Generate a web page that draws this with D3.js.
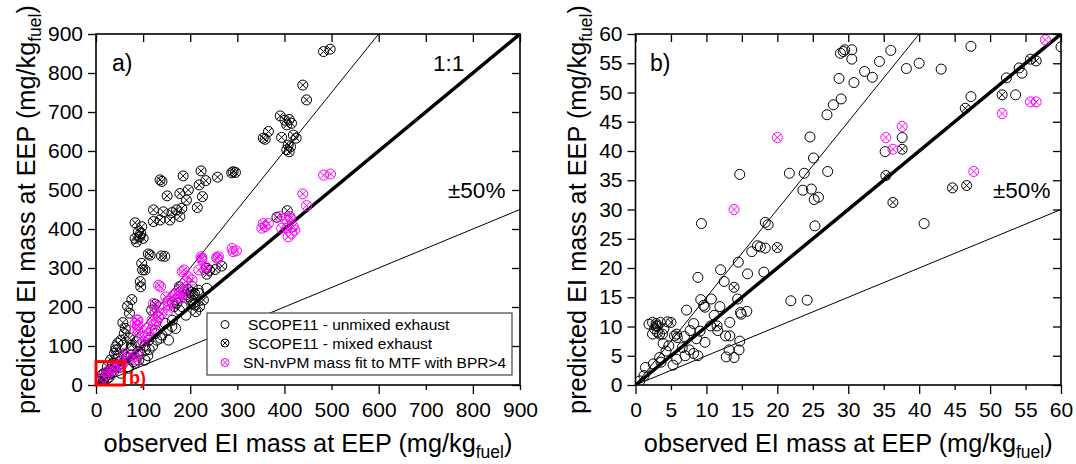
<!DOCTYPE html>
<html><head><meta charset="utf-8">
<script src="https://cdn.jsdelivr.net/npm/d3@7"></script>
<style>body{margin:0;background:#fff}svg{display:block;font-family:"Liberation Sans",Arial,sans-serif}</style>
</head><body><svg id="c" width="1076" height="464"></svg>
<script>
// ---------- data ----------
const ticksA = [0,100,200,300,400,500,600,700,800,900];
const ticksB = [0,5,10,15,20,25,30,35,40,45,50,55,60];
const legendLabels = ["SCOPE11 - unmixed exhaust","SCOPE11 - mixed exhaust","SN-nvPM mass fit to MTF with BPR>4"];
const xTitle = "observed EI mass at EEP (mg/kg";
const yTitle = "predicted EI mass at EEP (mg/kg";
const subTitle = "fuel";

const panelA_unmixed = [
[235,248],[209,205],[217,243],[206,231],[169,145],[137,120],[140,128],[129,115],[151,141],[113,91],[104,102],[89,85],[75,77],[60,60],[46,47],[31,32],[17,17],[126,132],[162,166],[191,179],[202,218],[177,192],[104,64],[82,56],[68,47],[53,30],[42,98],[57,102],[75,94],[13,26],[24,17],[35,51],[46,68],
[161,150],[126,141],[154,115],[105,90],[91,64],[69,43],[112,115],[204,252],[197,226],[183,201],[147,158],[172,210],[218,235],
[8,10],[15,8],[22,30],[28,20],[38,35],[50,45],[65,70],[80,60],[95,80],[120,100],[110,75]
];
const panelA_mixed = [
[483,855],[497,861],[439,769],[447,731],
[391,690],[401,679],[410,681],[415,671],[405,667],[355,633],[359,630],[366,650],[394,635],[419,641],[425,633],[408,615],[405,603],[413,611],[410,598],
[291,547],[288,544],[296,545],[258,533],[233,524],[223,549],[219,513],[226,483],[215,455],
[136,526],[140,522],[185,536],[196,500],[178,491],[151,485],[192,474],[182,453],[171,449],[161,442],[143,444],[122,449],[178,432],[122,419],[136,423],[157,423],
[83,416],[97,406],[90,393],[83,376],[100,376],[86,367],[93,380],[95,389],
[115,333],[139,331],[111,336],[146,330],
[97,312],[99,295],[104,295],[94,265],[95,252],
[76,219],[67,202],[71,184],[57,160],[60,132],[62,145],
[177,252],[195,245],[191,231],[202,238],[209,235],
[235,299],[253,296],[267,305],[241,294],[235,284],
[126,207],[118,192],[162,213],[169,218],[166,201],[206,209],[220,201],[212,188],[228,218],
[384,430],[406,447],
[53,115],[42,90],[39,81],[31,64],[24,47],[17,30],[46,107],[75,102],[86,111],[71,120],
[10,15],[20,22],[30,40],[50,60],[60,75],[35,55]
];
const panelA_nvpm = [
[483,538],[498,541],[439,490],[447,460],
[390,432],[401,427],[412,432],[419,406],[405,402],[415,389],[408,380],[394,402],[422,397],[413,427],[359,406],[355,414],[352,402],[366,414],
[289,350],[298,344],[291,342],[258,324],[223,329],[256,327],[224,322],[233,303],[187,295],[195,278],[190,265],[177,245],[169,235],[187,233],[180,222],[162,213],[154,205],
[133,256],[137,252],[148,226],[153,215],[140,184],[133,173],[129,162],[122,154],[118,141],[108,145],[89,166],[88,154],[89,141],[97,124],[104,124],[100,111],[111,132],
[89,81],[82,73],[86,64],[68,68],[60,81],[53,60],[46,51],[35,43],[24,34],[17,21],
[126,184],[133,201],[122,209],[83,158],[83,141],[87,167],[119,167],[133,175],[154,192],[175,226],[189,244],[204,269],[218,295],[231,295],[260,329],[225,325],[183,291],[165,231],
[10,12],[25,28],[40,38],[55,52]
];

const panelB_unmixed = [
[28.9,56.7],[29.3,57.0],[29.5,57.3],[30.5,57.3],[30.5,55.7],[36.0,57.2],[28.7,52.4],[29.0,48.9],[27.9,47.9],[27.0,46.2],[30.8,51.7],[32.3,53.6],[33.4,52.6],[34.4,55.3],[38.2,54.1],[40.0,55.0],[43.1,54.0],[47.3,57.9],[47.3,49.3],[52.3,52.5],[53.6,49.6],[54.1,54.2],[54.5,53.3],[60.0,57.8],
[37.6,42.3],[35.2,39.9],[24.6,42.4],[25.1,38.8],[23.8,36.2],[21.7,36.2],[14.7,36.0],[27.1,36.5],[23.6,33.3],[24.8,33.5],[25.8,32.1],[25.2,31.7],[25.3,27.2],[9.3,27.6],[18.3,27.8],[18.7,27.4],[40.7,27.6],
[16.4,22.8],[17.2,23.8],[17.6,23.6],[18.3,23.4],[14.5,21.0],[12.0,19.7],[8.8,18.4],[15.8,19.0],[18.1,19.3],[12.5,17.7],[9.2,14.6],[10.7,14.7],[9.8,13.3],[9.6,13.6],[11.9,13.4],[14.4,14.7],[14.9,12.1],[15.7,12.6],[14.8,12.4],[21.9,14.4],[24.2,14.5],[7.2,12.8],[11.1,11.9],[13.3,10.7],[8.2,10.5],[7.7,9.3],[9.1,9.2],[11.6,9.3],[10.6,10.1],[12.7,8.4],[13.3,8.4],[9.8,7.3],[14.7,7.5],[8.6,7.9],[6.9,8.3],[6.6,6.4],[7.6,6.0],[8.2,5.4],[8.8,5.0],[7.0,5.0],[5.8,4.4],[5.3,3.4],[3.9,7.1],[4.7,6.7],[4.3,5.8],[3.4,4.7],[3.6,3.9],[2.5,3.6],[1.4,3.0],[12.8,4.8],[13.9,4.7],[13.2,6.0],[14.6,6.0],[0.6,0.7],[1.2,1.6],
[1.9,10.4],[2.4,10.7],[2.9,10.1],[2.4,8.7],[3.1,9.0],[3.8,8.7],[4.0,9.6],[3.5,10.7],[2.7,9.6],[5.5,8.4],[5.9,8.1],[4.5,10.8]
];
const panelB_mixed = [
[13.9,16.7],[20.0,23.5],[35.3,35.8],[37.6,40.3],[36.3,31.2],[44.7,33.7],[46.7,34.1],[46.5,47.3],[51.7,49.6],[55.7,55.7],[56.5,55.4],
[5.0,10.7],[2.9,10.5],[3.4,8.7],[5.8,8.7],[11.5,10.1],[3.1,10.1]
];
const panelB_nvpm = [
[13.9,30.0],[20.0,42.3],[35.3,42.3],[36.3,40.3],[37.6,44.2],[47.7,36.5],[51.7,46.4],[55.7,48.4],[56.5,48.4],[57.8,59.0]
];

// ---------- drawing ----------
const svg = d3.select("#c");
const MAG = "#ff00ff";
const FONT = '"Liberation Sans",Arial,sans-serif';
const xPath = "M-3.5,-3.5L3.5,3.5M-3.5,3.5L3.5,-3.5";

function panel(cfg) {
  const x = d3.scaleLinear().domain([0, cfg.max]).range([cfg.x0, cfg.x1]);
  const y = d3.scaleLinear().domain([0, cfg.max]).range([cfg.y0, cfg.y1]);
  const g = svg.append("g");
  const cid = "clip" + cfg.id;
  svg.append("clipPath").attr("id", cid).append("rect")
    .attr("x", cfg.x0).attr("y", cfg.y1).attr("width", cfg.x1 - cfg.x0).attr("height", cfg.y0 - cfg.y1);
  const pg = g.append("g").attr("clip-path", `url(#${cid})`);
  const m = cfg.max;
  const line = d3.line().x(d => x(d[0])).y(d => y(d[1]));
  pg.append("path").attr("d", line([[0,0],[m/1.5,m]])).attr("stroke","#000").attr("stroke-width",1).attr("fill","none");
  pg.append("path").attr("d", line([[0,0],[m,m/2]])).attr("stroke","#000").attr("stroke-width",1).attr("fill","none");
  pg.append("path").attr("d", line([[0,0],[m,m]])).attr("stroke","#000").attr("stroke-width",3.5).attr("fill","none");

  function pts(data, color, cross) {
    const s = pg.append("g").selectAll("g").data(data).join("g")
      .attr("transform", d => `translate(${x(d[0])},${y(d[1])})`);
    s.append("circle").attr("r", 5).attr("fill", "none").attr("stroke", color).attr("stroke-width", 1);
    if (cross) s.append("path").attr("d", xPath).attr("stroke", color).attr("stroke-width", 1);
  }
  pts(cfg.unmixed, "#000", false);
  pts(cfg.mixed, "#000", true);
  pts(cfg.nvpm, MAG, true);

  // axes
  const bottom = g.append("g").attr("transform", `translate(0,${cfg.y0})`)
    .call(d3.axisBottom(x).tickValues(cfg.ticks).tickSize(9).tickPadding(8));
  bottom.selectAll(".tick line").attr("y2", (d,i) => i % 2 ? 5 : 9);
  g.append("g").attr("transform", `translate(${cfg.x0},0)`)
    .call(d3.axisLeft(y).tickValues(cfg.ticks).tickSize(8).tickPadding(5));
  g.append("g").attr("transform", `translate(0,${cfg.y1})`)
    .call(d3.axisTop(x).tickValues(cfg.ticks).tickSize(-8).tickFormat(""));
  g.append("g").attr("transform", `translate(${cfg.x1},0)`)
    .call(d3.axisRight(y).tickValues(cfg.ticks).tickSize(-8).tickFormat(""));
  g.selectAll(".domain").remove();
  g.selectAll(".tick line").attr("stroke", "#000").attr("stroke-width", 1.3);
  g.selectAll(".tick text").attr("font-size", 21).attr("fill", "#000").attr("font-family", FONT);
  g.append("rect").attr("x", cfg.x0).attr("y", cfg.y1).attr("width", cfg.x1 - cfg.x0).attr("height", cfg.y0 - cfg.y1)
    .attr("fill", "none").attr("stroke", "#000").attr("stroke-width", 1.6);

  // titles
  const xt = g.append("text").attr("x", (cfg.x0 + cfg.x1) / 2).attr("y", 452).attr("text-anchor", "middle").attr("font-size", 25.3);
  xt.append("tspan").text(xTitle);
  xt.append("tspan").attr("font-size", 17.5).attr("dy", 6).text(subTitle);
  xt.append("tspan").attr("dy", -6).text(")");
  const yt = g.append("text").attr("transform", `translate(${cfg.ytx},${(cfg.y0 + cfg.y1) / 2}) rotate(-90)`)
    .attr("text-anchor", "middle").attr("font-size", 25.3);
  yt.append("tspan").text(yTitle);
  yt.append("tspan").attr("font-size", 17.5).attr("dy", 6).text(subTitle);
  yt.append("tspan").attr("dy", -6).text(")");

  g.append("text").attr("x", cfg.labX).attr("y", 71).attr("font-size", 23).text(cfg.label);
  g.append("text").attr("x", cfg.pmX).attr("y", 198).attr("font-size", 22.5).text("±50%");
  return {x, y, g};
}

const A = panel({id:"a", max:900, x0:96, x1:520, y0:385, y1:34, ticks:ticksA,
  unmixed:panelA_unmixed, mixed:panelA_mixed, nvpm:panelA_nvpm, ytx:35, label:"a)", labX:112, pmX:448});
A.g.append("text").attr("x", 433).attr("y", 71).attr("font-size", 22.5).text("1:1");
// red box marking panel b region
A.g.append("rect").attr("x", A.x(0)).attr("y", A.y(60)).attr("width", A.x(60) - A.x(0)).attr("height", A.y(0) - A.y(60))
  .attr("fill", "none").attr("stroke", "#ff0000").attr("stroke-width", 3);
A.g.append("text").attr("x", 129).attr("y", 384).attr("font-size", 18).attr("font-weight", "bold").attr("fill", "#ff0000").text("b)");

// legend
const lg = A.g.append("g");
lg.append("rect").attr("x", 207).attr("y", 313).attr("width", 305).attr("height", 62)
  .attr("fill", "#fff").attr("stroke", "#444").attr("stroke-width", 1.2);
const rowsY = [330, 348.5, 368];
const rowsX = [248, 248, 243];
const rowColor = ["#000", "#000", MAG];
legendLabels.forEach((t, i) => {
  const cy = rowsY[i] - 5.5;
  lg.append("circle").attr("cx", 225).attr("cy", cy).attr("r", 4).attr("fill", "none").attr("stroke", rowColor[i]).attr("stroke-width", 1);
  if (i > 0) lg.append("path").attr("transform", `translate(225,${cy}) scale(0.8)`).attr("d", xPath).attr("stroke", rowColor[i]).attr("stroke-width", 1.2);
  lg.append("text").attr("x", rowsX[i]).attr("y", rowsY[i]).attr("font-size", 15.5).text(t);
});

panel({id:"b", max:60, x0:635.5, x1:1061, y0:385, y1:34, ticks:ticksB,
  unmixed:panelB_unmixed, mixed:panelB_mixed, nvpm:panelB_nvpm, ytx:586, label:"b)", labX:650, pmX:993});
</script></body></html>
